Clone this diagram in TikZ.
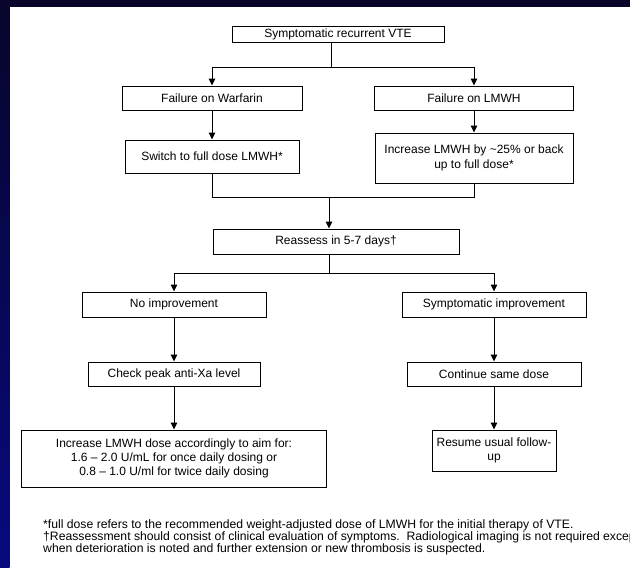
\documentclass[tikz,border=0pt]{standalone}
\usepackage{fontspec}
\setmainfont{Liberation Sans}
\usetikzlibrary{arrows.meta,positioning}
\definecolor{slidetop}{HTML}{07052A}
\definecolor{slidebottom}{HTML}{08097F}
\tikzset{
    >={Triangle[width=6.5pt,length=7pt]},
    stepbox/.style={draw=black, line width=1pt, fill=white, align=center,
        inner sep=0pt, font=\fontsize{12}{14.3}\selectfont},
    flow/.style={draw=black, line width=1pt},
    flowarrow/.style={draw=black, line width=1pt, ->},
    note/.style={anchor=base west, align=left, inner sep=0pt,
        font=\fontsize{12.2}{11.7}\selectfont},
}

\begin{document}
\begin{tikzpicture}[x=1pt, y=-1pt]
\useasboundingbox (0,0) rectangle (630,568);
\clip (0,0) rectangle (630,568);
% slide frame
\fill[white] (0,0) rectangle (630,568);
\fill[slidetop] (0,0) rectangle (630,7);
\shade[top color=slidetop, bottom color=slidebottom] (0,0) rectangle (9.5,568);

\node[stepbox, minimum width=212pt, minimum height=16pt] (vte) at (338,34) {Symptomatic recurrent VTE};
\node[stepbox, minimum width=180pt, minimum height=24pt] (warfarin) at (212,98) {Failure on Warfarin};
\node[stepbox, minimum width=199pt, minimum height=24pt] (lmwh) at (474,98) {Failure on LMWH};
\node[stepbox, minimum width=174pt, minimum height=33pt] (switch) at (212,156.5) {Switch to full dose LMWH*};
\node[stepbox, minimum width=198pt, minimum height=50pt] (increase) at (474,158) {Increase LMWH by \textasciitilde25\% or back\\up to full dose*};
\node[stepbox, minimum width=246pt, minimum height=25pt] (reassess) at (336,241.5) {Reassess in 5-7 days†};
\node[stepbox, minimum width=184pt, minimum height=25pt] (noimp) at (174,304.5) {No improvement};
\node[stepbox, minimum width=184pt, minimum height=25pt] (symimp) at (494,304.5) {Symptomatic improvement};
\node[stepbox, minimum width=172pt, minimum height=24pt] (antixa) at (174,374) {Check peak anti-Xa level};
\node[stepbox, minimum width=174pt, minimum height=24pt] (samedose) at (494,374) {Continue same dose};
\node[stepbox, minimum width=305pt, minimum height=57pt] (raisedose) at (174,458.5) {Increase LMWH dose accordingly to aim for:\\1.6 -- 2.0 U/mL for once daily dosing or\\0.8 -- 1.0 U/ml for twice daily dosing};
\node[stepbox, minimum width=124pt, minimum height=41pt] (followup) at (494,450.5) {Resume usual follow-\\up};

\coordinate (split1) at (331,67);
\coordinate (join1) at (329,197);
\coordinate (split2) at (329,273);

\draw[flow] (vte.south -| split1) -- (split1);
\draw[flowarrow] (split1) -| (warfarin.north);
\draw[flowarrow] (split1) -| (lmwh.north);
\draw[flowarrow] (warfarin) -- (switch);
\draw[flowarrow] (lmwh) -- (increase);
\draw[flow] (switch.south) |- (join1);
\draw[flow] (increase.south) |- (join1);
\draw[flowarrow] (join1) -- (join1 |- reassess.north);
\draw[flow] (reassess.south -| split2) -- (split2);
\draw[flowarrow] (split2) -| (noimp.north);
\draw[flowarrow] (split2) -| (symimp.north);
\draw[flowarrow] (noimp) -- (antixa);
\draw[flowarrow] (symimp) -- (samedose);
\draw[flowarrow] (antixa) -- (raisedose);
\draw[flowarrow] (samedose) -- (followup);

% footnotes
\node[note] (notes) at (43,552) {*full dose refers to the recommended weight-adjusted dose of LMWH for the initial therapy of VTE.\\†Reassessment should consist of clinical evaluation of symptoms.\ \ Radiological imaging is not required except\\when deterioration is noted and further extension or new thrombosis is suspected.};
\end{tikzpicture}
\end{document}
